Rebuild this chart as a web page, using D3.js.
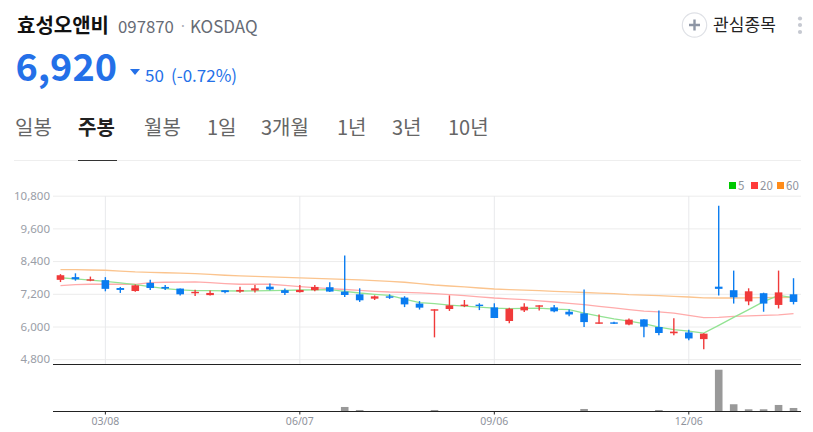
<!DOCTYPE html>
<html>
<head>
<meta charset="utf-8">
<style>
  html, body { margin: 0; padding: 0; background: #fff; overflow: hidden; }
  text { font-family: "Noto Sans CJK KR", "Noto Sans", sans-serif; }
  .axis text { font-family: "Noto Sans", sans-serif; }
</style>
<script src="https://cdn.jsdelivr.net/npm/d3@7"></script>
</head>
<body>
<div id="chart"></div>
<script>
var weeks = ['02/15','02/22','03/01','03/08','03/15','03/22','03/29','04/05','04/12','04/19',
  '04/26','05/03','05/10','05/17','05/24','05/31','06/07','06/14','06/21','06/28',
  '07/05','07/12','07/19','07/26','08/02','08/09','08/16','08/23','08/30','09/06',
  '09/13','09/20','09/27','10/04','10/11','10/18','10/25','11/01','11/08','11/15',
  '11/22','11/29','12/06','12/13','12/20','12/27','01/03','01/10','01/17','01/24'];
var opens = [7730,7830,7710,7720,7430,7320,7620,7470,7410,7250,
  7170,7350,7300,7340,7480,7350,7280,7350,7460,7300,
  7200,7040,7125,7080,6860,6610,6660,6770,6820,6720,
  6220,6610,6750,6720,6560,6500,6120,6170,6090,6280,
  6000,5770,5800,5555,7480,7350,6940,7240,6810,7200];
var highs = [7940,7970,7850,7830,7470,7560,7730,7540,7410,7370,
  7340,7350,7480,7540,7600,7410,7540,7540,7640,8620,
  7420,7160,7200,7130,6950,6650,7160,6990,6870,6870,
  6710,6870,6795,6810,6640,7380,6460,6190,6310,6280,
  6610,6320,5900,5770,10450,8070,7420,7260,8070,7790];
var lows = [7650,7700,7680,7310,7250,7290,7360,7360,7160,7140,
  7160,7240,7260,7270,7350,7170,7270,7310,7280,7100,
  6920,6990,7030,6730,6640,5620,6590,6730,6620,6330,
  6140,6550,6610,6540,6390,6000,6120,6110,6060,5620,
  5700,5700,5510,5185,7160,6860,6800,6560,6680,6830];
var closes = [7900,7750,7750,7400,7360,7530,7430,7410,7200,7290,
  7250,7280,7360,7420,7380,7250,7360,7470,7300,7175,
  6980,7125,7080,6830,6710,6650,6795,6820,6770,6330,
  6670,6745,6795,6575,6460,6180,6170,6130,6270,6010,
  5780,5830,5580,5755,7400,7090,7310,6860,7270,6920];
var ma5 = [7807,7763,7723,7678,7620,7557,7483,7410,7366,7336,
  7336,7329,7321,7329,7336,7347,7358,7366,7373,7310,
  7248,7200,7163,7027,6895,6858,6806,6769,6733,6696,
  6674,6685,6696,6659,6637,6512,6401,6298,6217,6122,
  5997,5901,5849,5776,6059,6354,6637,6931,7163,7079];
var ma20 = [7520,7557,7568,7568,7568,7568,7630,7642,7649,7653,
  7630,7594,7568,7568,7568,7524,7483,7447,7410,7377,
  7347,7310,7285,7274,7255,7226,7189,7152,7108,7064,
  7034,7005,6961,6917,6869,6821,6758,6703,6637,6582,
  6556,6512,6427,6343,6354,6390,6409,6427,6446,6490];
var ma60 = [8109,8102,8091,8083,8054,8021,8006,7991,7980,7958,
  7929,7899,7873,7855,7837,7818,7800,7781,7763,7745,
  7726,7700,7671,7642,7594,7542,7505,7469,7432,7395,
  7373,7351,7332,7310,7288,7266,7244,7222,7189,7171,
  7148,7126,7101,7071,7064,7064,7068,7075,7082,7090];
var volumes = [0,0,0,0,0,0,0,0,0,0,
  0,0,0,0,0,0,0,0,0,430,
  130,0,0,0,0,130,0,0,0,0,
  0,0,0,0,0,230,0,0,0,0,
  130,0,0,0,4130,700,200,200,630,330];
var priceTicks = [4800,6000,7200,8400,9600,10800];
var dateTicks = ['03/08','06/07','09/06','12/06'];
var tabs = ['일봉','주봉','월봉','1일','3개월','1년','3년','10년'];
var tabX = [15,78,144,207,261,337,392,448];
var maNames = ['5','20','60'];

var width = 813, height = 432;
var svg = d3.select('#chart').append('svg')
  .attr('width', width)
  .attr('height', height)
  .style('display', 'block');

// 헤더
svg.append('text').attr('x', 17).attr('y', 33)
  .attr('font-size', 20).attr('font-weight', 700).attr('fill', '#111').text('효성오앤비');
svg.append('text').attr('x', 118).attr('y', 33)
  .attr('font-size', 16.8).attr('fill', '#666b75').text('097870');
svg.append('text').attr('x', 179).attr('y', 31)
  .attr('font-size', 14).attr('fill', '#a8acb4').text('·');
svg.append('text').attr('x', 190).attr('y', 33)
  .attr('font-size', 17).attr('fill', '#666b75').text('KOSDAQ');
svg.append('text').attr('x', 15.5).attr('y', 81)
  .attr('font-size', 37.8).attr('font-weight', 700).attr('fill', '#2470e8').text('6,920');
svg.append('path').attr('d', 'M130,69L140,69L135,75Z').attr('fill', '#2470e8');
svg.append('text').attr('x', 145).attr('y', 82)
  .attr('font-size', 17).attr('fill', '#2470e8').text('50');
svg.append('text').attr('x', 171).attr('y', 82)
  .attr('font-size', 17).attr('fill', '#2470e8').text('(-0.72%)');

svg.append('circle').attr('cx', 694.5).attr('cy', 25).attr('r', 12.2)
  .attr('fill', '#fff').attr('stroke', '#dfe1e6').attr('stroke-width', 1.2);
svg.append('path').attr('d', 'M689,25H700M694.5,19.5V30.5')
  .attr('stroke', '#8e96a5').attr('stroke-width', 2.4).attr('fill', 'none');
svg.append('text').attr('x', 713).attr('y', 31)
  .attr('font-size', 17).attr('textLength', 63).attr('fill', '#222').text('관심종목');
svg.selectAll('.dot').data([18.5, 25, 32]).enter().append('circle')
  .attr('class', 'dot')
  .attr('cx', 800).attr('cy', function (d) { return d; }).attr('r', 2.1)
  .attr('fill', '#c6c9d1');

// 탭
svg.selectAll('.tab').data(tabs).enter().append('text')
  .attr('class', 'tab')
  .attr('x', function (d, i) { return tabX[i]; })
  .attr('y', 135)
  .attr('font-size', 20)
  .attr('font-weight', function (d, i) { return i === 1 ? 700 : 400; })
  .attr('fill', function (d, i) { return i === 1 ? '#222' : '#666'; })
  .text(function (d) { return d; });
svg.append('line').attr('x1', 14).attr('x2', 801).attr('y1', 160.5).attr('y2', 160.5)
  .attr('stroke', '#eeeeee');
svg.append('line').attr('x1', 78).attr('x2', 117).attr('y1', 160.5).attr('y2', 160.5)
  .attr('stroke', '#333');

// 스케일
var x = d3.scaleBand().domain(weeks).range([53, 801]);
var y = d3.scaleLinear().domain([4800, 10800]).range([359.7, 196.2]);
var yVol = d3.scaleLinear().domain([0, 4600]).range([411.3, 365]);
var cx = function (i) { return x(weeks[i]) + x.bandwidth() / 2; };

// 격자
var yAxis = d3.axisLeft(y).tickValues(priceTicks).tickSize(748).tickPadding(3)
  .tickFormat(d3.format(',')).offset(0);
var yG = svg.append('g').attr('class', 'axis').attr('transform', 'translate(801,0)').call(yAxis);
yG.select('.domain').remove();
yG.selectAll('line').attr('stroke', '#ececec');
yG.selectAll('text').attr('font-size', 11.5).attr('fill', '#9a9ea7');

svg.selectAll('.vgrid').data(dateTicks).enter().append('line')
  .attr('class', 'vgrid')
  .attr('x1', function (d) { return x(d) + x.bandwidth() / 2; })
  .attr('x2', function (d) { return x(d) + x.bandwidth() / 2; })
  .attr('y1', 196).attr('y2', 364)
  .attr('stroke', '#e8e9ec');

// 이동평균선
var line = d3.line()
  .x(function (d, i) { return cx(i); })
  .y(function (d) { return y(d); });
var maSeries = [
  { v: ma60, c: '#fbc48e' },
  { v: ma20, c: '#ffabab' },
  { v: ma5, c: '#93e393' }
];
svg.selectAll('.ma').data(maSeries).enter().append('path')
  .attr('class', 'ma')
  .attr('fill', 'none')
  .attr('stroke', function (d) { return d.c; })
  .attr('stroke-width', 1.3)
  .attr('d', function (d) { return line(d.v); });

// 캔들
var upColor = '#f03a3a', downColor = '#0a7cf0';
var candles = svg.selectAll('.candle').data(weeks).enter().append('g').attr('class', 'candle');
candles.append('line')
  .attr('x1', function (d, i) { return cx(i); })
  .attr('x2', function (d, i) { return cx(i); })
  .attr('y1', function (d, i) { return y(highs[i]); })
  .attr('y2', function (d, i) { return y(lows[i]); })
  .attr('stroke-width', 1.4)
  .attr('stroke', function (d, i) { return closes[i] >= opens[i] ? upColor : downColor; });
candles.append('rect')
  .attr('x', function (d, i) { return cx(i) - 3.8; })
  .attr('width', 7.6)
  .attr('y', function (d, i) { return y(Math.max(opens[i], closes[i])); })
  .attr('height', function (d, i) { return Math.max(1.4, Math.abs(y(opens[i]) - y(closes[i]))); })
  .attr('fill', function (d, i) { return closes[i] >= opens[i] ? upColor : downColor; });

// 거래량
svg.selectAll('.vol').data(volumes).enter().append('rect')
  .attr('class', 'vol')
  .attr('x', function (d, i) { return cx(i) - 3.8; })
  .attr('width', 7.6)
  .attr('y', function (d) { return yVol(d); })
  .attr('height', function (d) { return yVol(0) - yVol(d); })
  .attr('fill', '#999999');

svg.append('line').attr('x1', 53).attr('x2', 801).attr('y1', 364.5).attr('y2', 364.5)
  .attr('stroke', '#222');
var xAxis = d3.axisBottom(x).tickValues(dateTicks).tickSize(3).tickPadding(3).offset(0);
var xG = svg.append('g').attr('class', 'axis').attr('transform', 'translate(0,411.5)').call(xAxis);
xG.select('.domain').attr('stroke', '#222').attr('d', 'M53,0H801');
xG.selectAll('line').attr('stroke', '#222');
xG.selectAll('text').attr('font-size', 10.5).attr('fill', '#8f939c');

// 범례
var legendX = [729, 751, 777], legendC = ['#00c800', '#ff3b3b', '#ff8c1a'];
var legend = svg.selectAll('.lg').data(maNames).enter().append('g').attr('class', 'lg');
legend.append('rect')
  .attr('x', function (d, i) { return legendX[i]; })
  .attr('y', 182).attr('width', 7).attr('height', 7)
  .attr('fill', function (d, i) { return legendC[i]; });
legend.append('text')
  .attr('x', function (d, i) { return legendX[i] + 9; })
  .attr('y', 190)
  .attr('font-size', 11.5).attr('fill', '#8f939c')
  .text(function (d) { return d; });
</script>
</body>
</html>
